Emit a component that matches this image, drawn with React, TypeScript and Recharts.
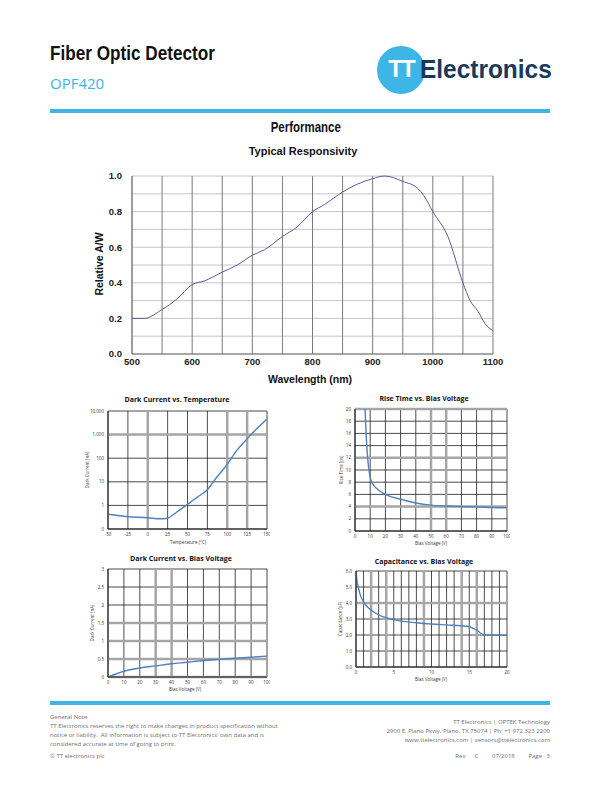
import React from 'react';
import { LineChart, Line, XAxis, YAxis, CartesianGrid, ReferenceLine } from 'recharts';

// Typical responsivity
const wavelengthNm = [500, 520, 550, 575, 600, 620, 650, 675, 700, 720, 750, 775, 800, 820, 850, 875, 900, 920, 950, 975, 985, 1000, 1025, 1050, 1062, 1075, 1087, 1100];
const relativeResponsivity = [0.2, 0.2, 0.25, 0.31, 0.39, 0.41, 0.46, 0.5, 0.555, 0.585, 0.66, 0.715, 0.8, 0.84, 0.91, 0.955, 0.985, 1.0, 0.97, 0.93, 0.89, 0.8, 0.66, 0.4, 0.3, 0.24, 0.17, 0.13];
const wavelengthTicks = [500, 550, 600, 650, 700, 750, 800, 850, 900, 950, 1000, 1050, 1100];
const responsivityTicks = [0, 0.1, 0.2, 0.3, 0.4, 0.5, 0.6, 0.7, 0.8, 0.9, 1.0];

// Dark current vs temperature (log)
const temperatureC = [-50, -25, 0, 15, 20, 25, 37, 50, 62, 75, 87, 100, 112, 125, 137, 150];
const darkCurrentTempNa = [0.42, 0.33, 0.3, 0.27, 0.27, 0.29, 0.54, 1.1, 2.2, 4.6, 16, 55, 215, 660, 1750, 4600];
const temperatureTicks = [-50, -25, 0, 25, 50, 75, 100, 125, 150];
const darkCurrentLogTicks = [0.1, 1, 10, 100, 1000, 10000];

// Rise time vs bias voltage
const riseBiasV = [6.6, 7.5, 8.5, 9.5, 10, 12, 15, 20, 30, 40, 50, 60, 70, 80, 90, 100];
const riseTimePs = [20, 15, 11.5, 9.5, 8.8, 7.6, 6.8, 6.0, 5.2, 4.6, 4.25, 4.1, 4.0, 3.95, 3.85, 3.8];
const bias100Ticks = [0, 10, 20, 30, 40, 50, 60, 70, 80, 90, 100];
const riseTimeTicks = [0, 2, 4, 6, 8, 10, 12, 14, 16, 18, 20];

// Dark current vs bias voltage
const darkBiasV = [0, 10, 20, 30, 40, 50, 60, 70, 80, 90, 100];
const darkCurrentBiasNa = [0, 0.16, 0.25, 0.31, 0.37, 0.41, 0.46, 0.49, 0.52, 0.55, 0.58];
const darkCurrentTicks = [0, 0.5, 1, 1.5, 2, 2.5, 3];

// Capacitance vs bias voltage
const capBiasV = [0, 0.1, 0.3, 0.5, 1, 1.5, 2, 3, 4, 5, 6, 8, 10, 12, 14, 15, 15.5, 16, 16.5, 17, 18, 20];
const capacitancePf = [6.0, 5.5, 5.0, 4.6, 4.07, 3.76, 3.56, 3.25, 3.08, 2.96, 2.87, 2.77, 2.69, 2.63, 2.57, 2.53, 2.42, 2.31, 2.11, 2.02, 2.0, 1.98];
const capBiasTicks = [0, 1, 2, 3, 4, 5, 6, 7, 8, 9, 10, 11, 12, 13, 14, 15, 16, 17, 18, 19, 20];
const capacitanceTicks = [0, 1, 2, 3, 4, 5, 6];

const zip = (xs: number[], ys: number[]) => xs.map((x, i) => ({ x, y: ys[i] }));

const BLUE = '#3db5e6';
const arial = "'Liberation Sans', Arial, sans-serif";
const calibri = "'Open Sans', 'Noto Sans', sans-serif";

const abs = (left: number, top: number, extra: React.CSSProperties = {}): React.CSSProperties => ({
  position: 'absolute',
  left,
  top,
  whiteSpace: 'nowrap',
  ...extra,
});

type SmallProps = {
  left: number;
  top: number;
  plotW: number;
  plotH: number;
  data: { x: number; y: number }[];
  xDomain: [number, number];
  xTicks: number[];
  xFmt?: (v: number) => string;
  yDomain: [number, number];
  yTicks: number[];
  yFmt?: (v: number) => string;
  yScale?: 'log' | 'linear';
  grayX: number[];
  grayY: number[];
};

const Y_W = 30;
const X_H = 12;
const PAD = 3;
const smallTick = { fontSize: 4.5, fill: '#333', fontFamily: calibri };

function SmallChart(p: SmallProps) {
  const w = p.plotW + Y_W + PAD;
  const h = p.plotH + PAD + X_H;
  return (
    <div style={abs(p.left - Y_W, p.top - PAD)}>
      <LineChart width={w} height={h} data={p.data} margin={{ top: PAD, right: PAD, left: 0, bottom: 0 }}>
        <CartesianGrid stroke="#1f1f1f" strokeWidth={0.8} />
        <XAxis
          dataKey="x"
          type="number"
          domain={p.xDomain}
          ticks={p.xTicks}
          interval={0}
          tickFormatter={p.xFmt}
          height={X_H}
          tickSize={0}
          tickMargin={4}
          axisLine={{ stroke: '#1f1f1f' }}
          tick={smallTick}
          allowDataOverflow
        />
        <YAxis
          type="number"
          scale={p.yScale || 'linear'}
          domain={p.yDomain}
          ticks={p.yTicks}
          interval={0}
          tickFormatter={p.yFmt}
          width={Y_W}
          tickSize={0}
          tickMargin={4}
          axisLine={{ stroke: '#1f1f1f' }}
          tick={smallTick}
          allowDataOverflow
        />
        {p.grayX.map((v) => (
          <ReferenceLine key={'gx' + v} x={v} stroke="#a6a6a6" strokeWidth={2.5} />
        ))}
        {p.grayY.map((v) => (
          <ReferenceLine key={'gy' + v} y={v} stroke="#a6a6a6" strokeWidth={2.5} />
        ))}
        <Line dataKey="y" type="monotone" stroke="#4f81bd" strokeWidth={1.4} dot={false} isAnimationActive={false} />
      </LineChart>
    </div>
  );
}

function SmallTitle({ cx, cy, text }: { cx: number; cy: number; text: string }) {
  return (
    <div style={abs(cx - 100, cy - 6, { width: 200, textAlign: 'center', fontFamily: calibri, fontWeight: 700, fontSize: 7, lineHeight: '12px', color: '#111' })}>
      {text}
    </div>
  );
}

function AxisTitle({ cx, cy, text, rotate }: { cx: number; cy: number; text: string; rotate?: boolean }) {
  return (
    <div
      style={abs(cx - 50, cy - 4, {
        width: 100,
        textAlign: 'center',
        fontFamily: calibri,
        fontSize: 4.5,
        lineHeight: '8px',
        color: '#333',
        transform: rotate ? 'rotate(-90deg)' : undefined,
      })}
    >
      {text}
    </div>
  );
}

const footLine: React.CSSProperties = { fontFamily: calibri, fontSize: 6, color: '#6f6f6f', lineHeight: '9px' };

export default function App() {
  const responsivityData = zip(wavelengthNm, relativeResponsivity);
  const mainTick = { fontSize: 9.5, fontWeight: 700, fill: '#222', fontFamily: arial };

  return (
    <div style={{ position: 'absolute', left: 0, top: 0, width: 612, height: 792, background: '#fff', overflow: 'hidden' }}>
      {/* header */}
      <div style={abs(50, 42, { fontFamily: arial, fontWeight: 700, fontSize: 19.5, color: '#111', transform: 'scaleX(0.88)', transformOrigin: 'left top' })}>
        Fiber Optic Detector
      </div>
      <div style={abs(50, 73, { fontFamily: calibri, fontSize: 15, color: BLUE })}>OPF420</div>
      <div style={abs(377, 46, { width: 48, height: 48, borderRadius: '50%', background: BLUE })}>
        <div style={abs(0, 9, { width: 48, textAlign: 'center', fontFamily: arial, fontWeight: 700, fontSize: 24, color: '#fff', letterSpacing: -2 })}>
          TT
        </div>
      </div>
      <div style={abs(420, 54, { fontFamily: arial, fontWeight: 700, fontSize: 26, color: '#1b3a5a', transform: 'scaleX(0.94)', transformOrigin: 'left top' })}>
        Electronics
      </div>
      <div style={abs(50, 109, { width: 500, height: 4, background: BLUE })} />

      <div style={abs(206, 119, { width: 200, textAlign: 'center', fontFamily: arial, fontWeight: 700, fontSize: 14, color: '#111' })}>
        <span style={{ display: 'inline-block', transform: 'scaleX(0.82)' }}>Performance</span>
      </div>

      {/* main chart */}
      <div style={abs(203, 145, { width: 200, textAlign: 'center', fontFamily: arial, fontWeight: 700, fontSize: 11, color: '#111' })}>
        Typical Responsivity
      </div>
      <div style={abs(80, 166)}>
        <LineChart width={430} height={222} data={responsivityData} margin={{ top: 10, right: 17, left: 0, bottom: 0 }}>
          <CartesianGrid vertical={false} stroke="#c6c6c6" />
          <CartesianGrid horizontal={false} stroke="#7a7a7a" />
          <XAxis
            dataKey="x"
            type="number"
            domain={[500, 1100]}
            ticks={wavelengthTicks}
            interval={0}
            tickFormatter={(v: number) => (v % 100 === 0 ? String(v) : '')}
            height={34}
            tickSize={0}
            tickMargin={4}
            axisLine={{ stroke: '#6a6a6a' }}
            tick={mainTick}
          />
          <YAxis
            type="number"
            domain={[0, 1]}
            ticks={responsivityTicks}
            interval={0}
            tickFormatter={(v: number) => (Math.round(v * 10) % 2 === 0 ? v.toFixed(1) : '')}
            width={52}
            tickSize={0}
            tickMargin={10}
            axisLine={{ stroke: '#7a7a7a' }}
            tick={mainTick}
          />
          <Line dataKey="y" type="monotone" stroke="#5a5a9c" strokeWidth={1} dot={false} isAnimationActive={false} />
        </LineChart>
      </div>
      <div style={abs(260, 373, { width: 100, textAlign: 'center', fontFamily: arial, fontWeight: 700, fontSize: 10.5, color: '#111' })}>
        Wavelength (nm)
      </div>
      <div style={abs(49, 258, { width: 100, textAlign: 'center', fontFamily: arial, fontWeight: 700, fontSize: 10.5, color: '#111', transform: 'rotate(-90deg)' })}>
        Relative A/W
      </div>

      {/* dark current vs temperature */}
      <SmallTitle cx={177} cy={400} text="Dark Current vs. Temperature" />
      <SmallChart
        left={108}
        top={411}
        plotW={159}
        plotH={118}
        data={zip(temperatureC, darkCurrentTempNa)}
        xDomain={[-50, 150]}
        xTicks={temperatureTicks}
        yDomain={[0.1, 10000]}
        yTicks={darkCurrentLogTicks}
        yScale="log"
        yFmt={(v: number) => (v < 1 ? '0' : v.toLocaleString('en-US'))}
        grayX={[0, 100, 125]}
        grayY={[1000]}
      />
      <AxisTitle cx={188} cy={542} text="Temperature (°C)" />
      <AxisTitle cx={87} cy={470} text="Dark Current (nA)" rotate />

      {/* rise time vs bias voltage */}
      <SmallTitle cx={424} cy={399} text="Rise Time vs. Bias Voltage" />
      <SmallChart
        left={355}
        top={409}
        plotW={152}
        plotH={122}
        data={zip(riseBiasV, riseTimePs)}
        xDomain={[0, 100]}
        xTicks={bias100Ticks}
        yDomain={[0, 20]}
        yTicks={riseTimeTicks}
        grayX={[50, 60]}
        grayY={[4, 12, 20]}
      />
      <AxisTitle cx={431} cy={543} text="Bias Voltage (V)" />
      <AxisTitle cx={341} cy={470} text="Rise Time (ps)" rotate />

      {/* dark current vs bias voltage */}
      <SmallTitle cx={181} cy={559} text="Dark Current vs. Bias Voltage" />
      <SmallChart
        left={108}
        top={569}
        plotW={159}
        plotH={108}
        data={zip(darkBiasV, darkCurrentBiasNa)}
        xDomain={[0, 100]}
        xTicks={bias100Ticks}
        yDomain={[0, 3]}
        yTicks={darkCurrentTicks}
        grayX={[30, 40]}
        grayY={[0, 0.5, 1, 1.5]}
      />
      <AxisTitle cx={185} cy={689} text="Bias Voltage (V)" />
      <AxisTitle cx={92} cy={623} text="Dark Current (nA)" rotate />

      {/* capacitance vs bias voltage */}
      <SmallTitle cx={424} cy={562} text="Capacitance vs. Bias Voltage" />
      <SmallChart
        left={356}
        top={571}
        plotW={151}
        plotH={96}
        data={zip(capBiasV, capacitancePf)}
        xDomain={[0, 20]}
        xTicks={capBiasTicks}
        xFmt={(v: number) => (v % 5 === 0 ? String(v) : '')}
        yDomain={[0, 6]}
        yTicks={capacitanceTicks}
        yFmt={(v: number) => v.toFixed(1)}
        grayX={[2, 4, 9, 14, 16]}
        grayY={[4]}
      />
      <AxisTitle cx={431} cy={679} text="Bias Voltage (V)" />
      <AxisTitle cx={340} cy={619} text="Capacitance (pF)" rotate />

      {/* footer */}
      <div style={abs(50, 701, { width: 500, height: 4, background: BLUE })} />
      <div style={abs(50, 713, footLine)}>
        <div>General Note</div>
        <div>TT Electronics reserves the right to make changes in product specification without</div>
        <div>notice or liability.&nbsp; All information is subject to TT Electronics' own data and is</div>
        <div>considered accurate at time of going to print.</div>
      </div>
      <div style={abs(50, 752, footLine)}>© TT electronics plc</div>
      <div style={abs(250, 718, { ...footLine, width: 300, textAlign: 'right' })}>
        <div>TT Electronics | OPTEK Technology</div>
        <div>2900 E. Plano Pkwy, Plano, TX 75074 | Ph: +1 972 323 2200</div>
        <div>www.ttelectronics.com | sensors@ttelectronics.com</div>
      </div>
      <div style={abs(250, 752, { ...footLine, width: 300, textAlign: 'right', wordSpacing: 3 })}>Rev&nbsp; C&nbsp;&nbsp; 07/2018&nbsp;&nbsp; Page 3</div>
    </div>
  );
}
